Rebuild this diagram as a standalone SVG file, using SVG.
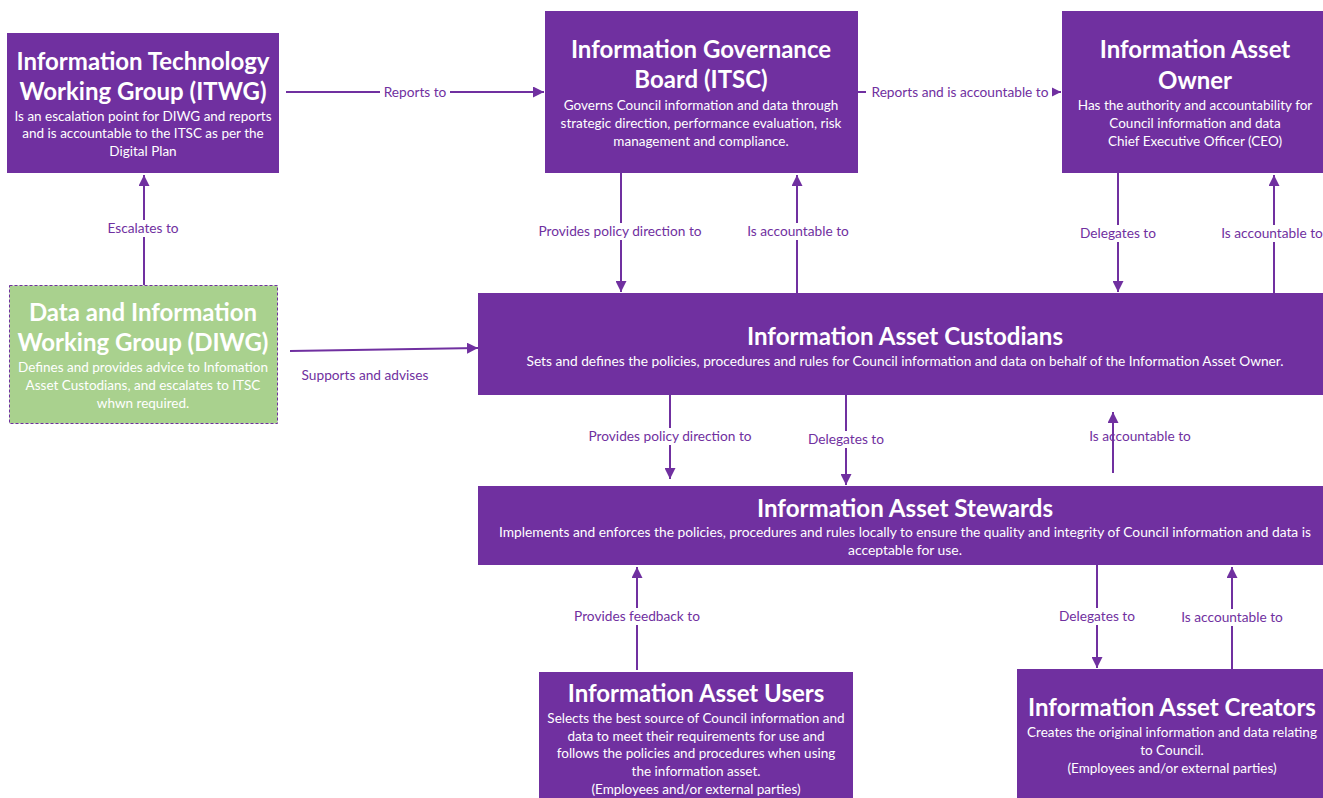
<svg xmlns="http://www.w3.org/2000/svg" width="1323" height="798" viewBox="0 0 1323 798">
<defs>
<marker id="arr" viewBox="0 0 10 10" refX="10" refY="5" markerWidth="11" markerHeight="11" markerUnits="userSpaceOnUse" orient="auto">
<path d="M0,0 L10,5 L0,10 z" fill="#7030A0"/>
</marker>
<style>
.box{fill:#7030A0;}
.green{fill:#A9D18E;stroke:#7030A0;stroke-width:1;stroke-dasharray:3 2;}
.t{font-family:Lato,"Open Sans",sans-serif;font-weight:bold;fill:#fff;text-anchor:middle;font-size:24px;}
.b{font-family:Lato,"Open Sans",sans-serif;fill:#fff;text-anchor:middle;font-size:13.5px;}
.l{font-family:Lato,"Open Sans",sans-serif;fill:#7030A0;text-anchor:middle;font-size:13.7px;}
.c{stroke:#7030A0;stroke-width:2;fill:none;marker-end:url(#arr);}
.bg{fill:#fff;}
</style>
</defs>
<rect width="1323" height="798" fill="#fff"/>

<g id="connectors">
<line class="c" x1="286" y1="92" x2="544" y2="92"/>
<line class="c" x1="858" y1="92" x2="1061" y2="92"/>
<line class="c" x1="144" y1="285" x2="144" y2="175"/>
<line class="c" x1="290" y1="351" x2="478" y2="348"/>
<line class="c" x1="621" y1="173" x2="621" y2="292"/>
<line class="c" x1="797" y1="293" x2="797" y2="175"/>
<line class="c" x1="1118" y1="173" x2="1118" y2="292"/>
<line class="c" x1="1274" y1="293" x2="1274" y2="175"/>
<line class="c" x1="670" y1="395" x2="670" y2="479"/>
<line class="c" x1="846" y1="395" x2="846" y2="485"/>
<line class="c" x1="1113" y1="473" x2="1113" y2="412"/>
<line class="c" x1="637" y1="670" x2="637" y2="567"/>
<line class="c" x1="1097" y1="565" x2="1097" y2="668"/>
<line class="c" x1="1232" y1="669" x2="1232" y2="567"/>

<rect class="bg" x="380" y="84" width="70" height="17"/>
<text class="l" x="415" y="97">Reports to</text>
<rect class="bg" x="866" y="84" width="186" height="17"/>
<text class="l" x="960" y="97">Reports and is accountable to</text>
<rect class="bg" x="102" y="220" width="84" height="17"/>
<text class="l" x="143" y="233">Escalates to</text>
<text class="l" x="365" y="380">Supports and advises</text>
<rect class="bg" x="534" y="223" width="172" height="17"/>
<text class="l" x="620" y="236">Provides policy direction to</text>
<rect class="bg" x="743" y="223" width="110" height="17"/>
<text class="l" x="798" y="236">Is accountable to</text>
<rect class="bg" x="1076" y="225" width="84" height="17"/>
<text class="l" x="1118" y="238">Delegates to</text>
<rect class="bg" x="1218" y="225" width="110" height="17"/>
<text class="l" x="1272" y="238">Is accountable to</text>
<rect class="bg" x="584" y="428" width="172" height="17"/>
<text class="l" x="670" y="441">Provides policy direction to</text>
<rect class="bg" x="804" y="431" width="84" height="17"/>
<text class="l" x="846" y="444">Delegates to</text>
<text class="l" x="1140" y="441">Is accountable to</text>
<rect class="bg" x="570" y="608" width="134" height="17"/>
<text class="l" x="637" y="621">Provides feedback to</text>
<rect class="bg" x="1055" y="608" width="84" height="17"/>
<text class="l" x="1097" y="621">Delegates to</text>
<rect class="bg" x="1177" y="609" width="110" height="17"/>
<text class="l" x="1232" y="622">Is accountable to</text>
</g>

<g id="itwg">
<rect class="box" x="7" y="33" width="272" height="140"/>
<text class="t" x="143" y="70">Information Technology</text>
<text class="t" x="143" y="100">Working Group (ITWG)</text>
<text class="b" x="143" y="121">Is an escalation point for DIWG and reports</text>
<text class="b" x="143" y="138">and is accountable to the ITSC as per the</text>
<text class="b" x="143" y="156">Digital Plan</text>
</g>

<g id="igb">
<rect class="box" x="545" y="11" width="313" height="162"/>
<text class="t" x="701" y="58">Information Governance</text>
<text class="t" x="701" y="88">Board (ITSC)</text>
<text class="b" x="701" y="110">Governs Council information and data through</text>
<text class="b" x="701" y="128">strategic direction, performance evaluation, risk</text>
<text class="b" x="701" y="146">management and compliance.</text>
</g>

<g id="iao">
<rect class="box" x="1062" y="11" width="261" height="162"/>
<text class="t" x="1195" y="58">Information Asset</text>
<text class="t" x="1195" y="89">Owner</text>
<text class="b" x="1195" y="110">Has the authority and accountability for</text>
<text class="b" x="1195" y="128">Council information and data</text>
<text class="b" x="1195" y="146">Chief Executive Officer (CEO)</text>
</g>

<g id="diwg">
<rect class="green" x="9.5" y="285.5" width="268" height="138"/>
<text class="t" x="143" y="321">Data and Information</text>
<text class="t" x="143" y="351">Working Group (DIWG)</text>
<text class="b" x="143" y="372">Defines and provides advice to Infomation</text>
<text class="b" x="143" y="390">Asset Custodians, and escalates to ITSC</text>
<text class="b" x="143" y="408">whwn required.</text>
</g>

<g id="custodians">
<rect class="box" x="478" y="293" width="845" height="102"/>
<text class="t" x="905" y="345" textLength="316" lengthAdjust="spacingAndGlyphs">Information Asset Custodians</text>
<text class="b" x="905" y="366" textLength="757" lengthAdjust="spacingAndGlyphs">Sets and defines the policies, procedures and rules for Council information and data on behalf of the Information Asset Owner.</text>
</g>

<g id="stewards">
<rect class="box" x="478" y="486" width="845" height="79"/>
<text class="t" x="905" y="517" textLength="296" lengthAdjust="spacingAndGlyphs">Information Asset Stewards</text>
<text class="b" x="905" y="537" textLength="812" lengthAdjust="spacingAndGlyphs">Implements and enforces the policies, procedures and rules locally to ensure the quality and integrity of Council information and data is</text>
<text class="b" x="905" y="555" textLength="114" lengthAdjust="spacingAndGlyphs">acceptable for use.</text>
</g>

<g id="users">
<rect class="box" x="539" y="672" width="314" height="126"/>
<text class="t" x="696" y="702">Information Asset Users</text>
<text class="b" x="696" y="723">Selects the best source of Council information and</text>
<text class="b" x="696" y="741">data to meet their requirements for use and</text>
<text class="b" x="696" y="758">follows the policies and procedures when using</text>
<text class="b" x="696" y="776">the information asset.</text>
<text class="b" x="696" y="794">(Employees and/or external parties)</text>
</g>

<g id="creators">
<rect class="box" x="1017" y="669" width="306" height="129"/>
<text class="t" x="1172" y="716">Information Asset Creators</text>
<text class="b" x="1172" y="737">Creates the original information and data relating</text>
<text class="b" x="1172" y="755">to Council.</text>
<text class="b" x="1172" y="773">(Employees and/or external parties)</text>
</g>
</svg>
